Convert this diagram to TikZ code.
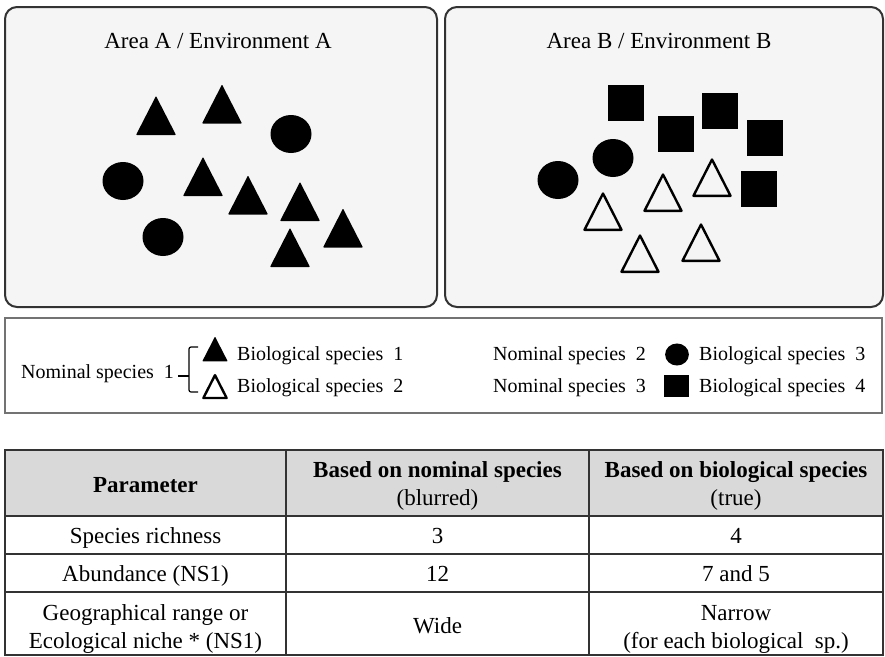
\documentclass[tikz,border=0pt]{standalone}
\usepackage{fontspec}
\setmainfont{Liberation Serif}
\usetikzlibrary{calc}

\begin{document}
\begin{tikzpicture}[x=1pt, y=-1pt,
    area/.style={draw=black!80, line width=2pt, fill=black!4, rounded corners=12pt},
    title/.style={inner sep=0pt, anchor=base, font=\fontsize{23}{28}\selectfont},
    leg/.style={inner sep=0pt, anchor=base west, font=\fontsize{20}{24}\selectfont},
    cell/.style={inner sep=0pt, anchor=base, align=center, font=\fontsize{23}{28}\selectfont},
    hcell/.style={cell, font=\fontsize{23}{28}\selectfont\bfseries},
    rule/.style={draw=black!80, line width=1.6pt},
    ftri/.pic={\fill[rounded corners=0.8pt] (0,-19.5) -- (20,19.5) -- (-20,19.5) -- cycle;},
    otri/.pic={\draw[line width=2.4pt, line join=round] (0,-18) -- (18.5,18.3) -- (-18.5,18.3) -- cycle;},
    blob/.pic={\fill (0,0) ellipse [x radius=20.5pt, y radius=19pt];},
    sq/.pic={\fill (-18,-18) rectangle (18,18);}
  ]
  \path[fill=white, use as bounding box] (0,0) rectangle (885,656);

  % Areas
  \draw[area] (5,7) rectangle (437,307);
  \draw[area] (445,7) rectangle (883,307);
  \node[title] (titleA) at (218,48) {Area A / Environment A};
  \node[title] (titleB) at (659,48) {Area B / Environment B};

  % Area A
  \foreach \x/\y in {156/115.5, 222/104, 203/176.5, 248/195, 300/201.5, 343/228, 290/247.5}
    \pic at (\x,\y) {ftri};
  \foreach \x/\y in {291/134, 123/181, 163/237}
    \pic at (\x,\y) {blob};

  % Area B
  \foreach \x/\y in {626/103, 676/134, 720/111, 765/138, 759/189}
    \pic at (\x,\y) {sq};
  \foreach \x/\y in {558/180, 613/158}
    \pic at (\x,\y) {blob};
  \foreach \x/\y in {603/211.5, 663/192.5, 712/177.5, 640/253.5, 701/242.5}
    \pic at (\x,\y) {otri};

  % Legend
  \draw[black!55, line width=1.2pt] (5,318) rectangle (882,413);
  \node[leg] (ns1) at (21,378) {Nominal species~~1};
  \draw[line width=1.2pt, rounded corners=2pt] (198,347) -- (189,347) -- (189,392) -- (198,392);
  \draw[line width=1.2pt] (178,376) -- (189,376);
  \pic[scale=0.64] at (215,349) {ftri};
  \pic[scale=0.63] at (215,386.5) {otri};
  \node[leg] (bs1) at (237,360) {Biological species~~1};
  \node[leg] (bs2) at (237,392) {Biological species~~2};
  \node[leg] (ns2) at (493,360) {Nominal species~~2};
  \node[leg] (ns3) at (493,392) {Nominal species~~3};
  \pic[scale=0.58] at (677,354.5) {blob};
  \pic[xscale=0.68, yscale=0.6] at (676.5,386) {sq};
  \node[leg] (bs3) at (699,360) {Biological species~~3};
  \node[leg] (bs4) at (699,392) {Biological species~~4};

  % Table
  \fill[black!15] (5,450) rectangle (883,516);
  \draw[rule] (5,450) rectangle (883,655);
  \foreach \y in {516, 554, 592}
    \draw[rule] (5,\y) -- (883,\y);
  \foreach \x in {286, 589}
    \draw[rule] (\x,450) -- (\x,655);

  % multi-line cells sit on the baseline of their last line
  \node[hcell] (hpar) at (145.5,492) {Parameter};
  \node[hcell] (hnom) at (437.5,505) {Based on nominal species\\\mdseries(blurred)};
  \node[hcell] (hbio) at (736,505) {Based on biological species\\\mdseries(true)};
  \node[cell] (prich) at (145.5,543) {Species richness};
  \node[cell] (nrich) at (437.5,543) {3};
  \node[cell] (brich) at (736,543) {4};
  \node[cell] (pabun) at (145.5,581) {Abundance (NS1)};
  \node[cell] (nabun) at (437.5,581) {12};
  \node[cell] (babun) at (736,581) {7 and 5};
  \node[cell] (prange) at (145.5,648) {Geographical range or\\Ecological niche * (NS1)};
  \node[cell] (nrange) at (437.5,633) {Wide};
  \node[cell] (brange) at (736,648) {Narrow\\(for each biological~~sp.)};
\end{tikzpicture}
\end{document}
